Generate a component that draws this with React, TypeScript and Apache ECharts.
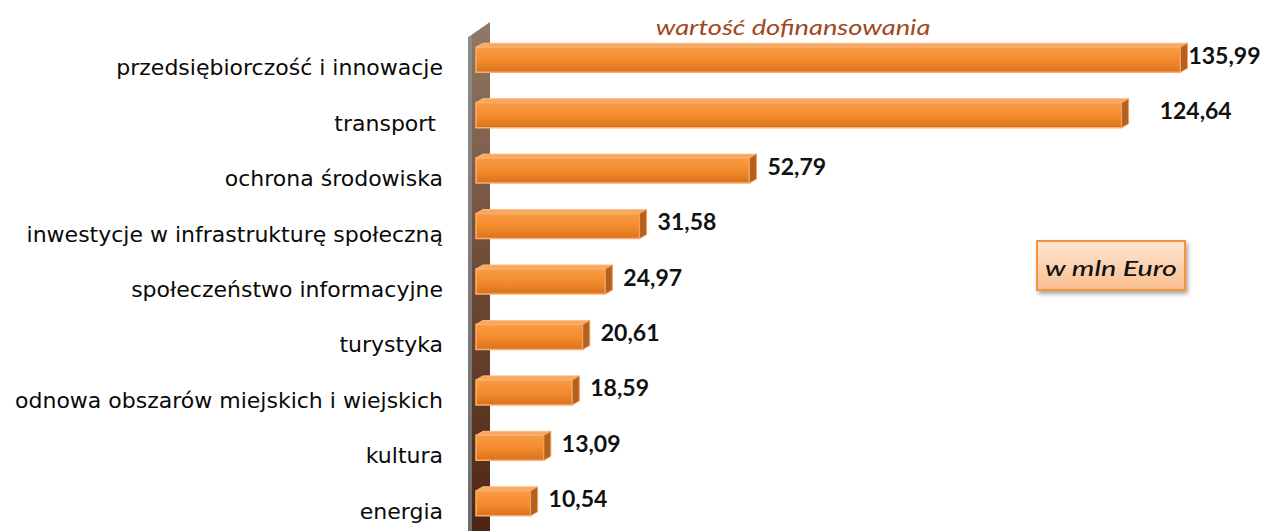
import React, { useEffect, useRef } from "react";
import * as echarts from "echarts";

const categories = [
  "przedsiębiorczość i innowacje",
  "transport ",
  "ochrona środowiska",
  "inwestycje w infrastrukturę społeczną",
  "społeczeństwo informacyjne",
  "turystyka",
  "odnowa obszarów miejskich i wiejskich",
  "kultura",
  "energia",
];
const values = [135.99, 124.64, 52.79, 31.58, 24.97, 20.61, 18.59, 13.09, 10.54];
const seriesName = "wartość dofinansowania";
const unitLabel = "w mln Euro";
const FONT = "Lato, 'Noto Sans', sans-serif";
const WIDE = "'DejaVu Sans', 'Open Sans', sans-serif";

const fmt = (v: number) => v.toFixed(2).replace(".", ",");

export default function App() {
  const ref = useRef<HTMLDivElement>(null);
  useEffect(() => {
    if (!ref.current) return;
    const chart = echarts.init(ref.current, null, { renderer: "svg" });
    const frontFill = new echarts.graphic.LinearGradient(0, 0, 0, 1, [
      { offset: 0, color: "#F99B45" },
      { offset: 0.55, color: "#F38A2B" },
      { offset: 1, color: "#D8711D" },
    ]);
    const option: any = {
      animation: false,
      backgroundColor: "#ffffff",
      grid: { left: 476, top: 32, width: 777, height: 500, containLabel: false },
      xAxis: {
        type: "value",
        min: 0,
        max: 150,
        show: false,
      },
      yAxis: {
        type: "category",
        data: categories,
        inverse: true,
        axisLine: { show: false },
        axisTick: { show: false },
        axisLabel: {
          margin: 33,
          color: "#0a0a0a",
          fontSize: 22,
          fontFamily: WIDE,
          verticalAlign: "top",
          lineHeight: 16,
        },
      },
      graphic: [
        {
          type: "polygon",
          z: 1,
          shape: { points: [[468, 37], [472, 34.5], [472, 531], [468, 531]] },
          style: {
            fill: new echarts.graphic.LinearGradient(0, 0, 0, 1, [
              { offset: 0, color: "#8C8C8C" },
              { offset: 1, color: "#6E6E6E" },
            ]),
          },
        },
        {
          type: "polygon",
          z: 1,
          shape: { points: [[472, 34.5], [490, 22], [490, 531], [472, 531]] },
          style: {
            fill: new echarts.graphic.LinearGradient(0, 0, 0, 1, [
              { offset: 0, color: "#917867" },
              { offset: 0.5, color: "#6E4A35" },
              { offset: 1, color: "#4E2512" },
            ]),
          },
        },
        {
          type: "text",
          z: 5,
          x: 793,
          y: 27,
          scaleX: 1.3,
          style: {
            text: seriesName,
            x: 0,
            y: 0,
            textAlign: "center",
            textVerticalAlign: "middle",
            fontSize: 21,
            fontStyle: "italic",
            fontFamily: FONT,
            fill: "#A0481C",
          },
        },
        {
          type: "rect",
          z: 5,
          shape: { x: 1037, y: 241, width: 148, height: 49 },
          style: {
            fill: new echarts.graphic.LinearGradient(0, 0, 0, 1, [
              { offset: 0, color: "#FEE6D2" },
              { offset: 1, color: "#FABE8F" },
            ]),
            stroke: "#F39540",
            lineWidth: 2,
            shadowBlur: 4,
            shadowOffsetX: 2,
            shadowOffsetY: 3,
            shadowColor: "rgba(0,0,0,0.35)",
          },
        },
        {
          type: "text",
          z: 6,
          x: 1111,
          y: 267,
          scaleX: 1.3,
          style: {
            text: unitLabel,
            x: 0,
            y: 0,
            textAlign: "center",
            textVerticalAlign: "middle",
            fontSize: 22,
            fontStyle: "italic",
            fontWeight: 500,
            fontFamily: FONT,
            fill: "#111111",
          },
        },
      ],
      series: [
        {
          type: "custom",
          name: seriesName,
          z: 3,
          data: values.map((v, i) => [i, v]),
          encode: { x: 1, y: 0 },
          renderItem: (params: any, api: any) => {
            const idx = api.value(0);
            const v = api.value(1);
            const s = api.coord([0, idx]);
            const e = api.coord([v, idx]);
            const h = 25;
            const dx = 7;
            const dy = 4;
            const x0 = s[0];
            const x1 = e[0];
            const yc = s[1];
            const yt = yc - h / 2;
            const yb = yc + h / 2;
            const dist = idx === 0 ? 8 : idx === 1 ? 38 : 18;
            return {
              type: "group",
              children: [
                {
                  type: "polygon",
                  shape: { points: [[x0, yt], [x0 + dx, yt - dy], [x1 + dx, yt - dy], [x1, yt]] },
                  style: { fill: "#F9A75C", stroke: "#FBBE85", lineWidth: 1 },
                },
                {
                  type: "rect",
                  shape: { x: x0, y: yt, width: x1 - x0, height: h },
                  style: { fill: frontFill, stroke: "#FAAE6E", lineWidth: 1.5 },
                },
                {
                  type: "polygon",
                  shape: { points: [[x1, yt], [x1 + dx, yt - dy], [x1 + dx, yb - dy], [x1, yb]] },
                  style: { fill: "#B4611F", stroke: "#F3A060", lineWidth: 1 },
                },
                {
                  type: "text",
                  style: {
                    text: fmt(v),
                    x: x1 + dist,
                    y: yc - 5,
                    textAlign: "left",
                    textVerticalAlign: "middle",
                    fontSize: 23,
                    fontWeight: "bold",
                    fontFamily: FONT,
                    fill: "#111111",
                  },
                },
              ],
            };
          },
        },
      ],
    };
    chart.setOption(option);
    return () => chart.dispose();
  }, []);
  return (
    <div
      ref={ref}
      style={{ position: "absolute", left: 0, top: 0, width: 1267, height: 531 }}
    />
  );
}
